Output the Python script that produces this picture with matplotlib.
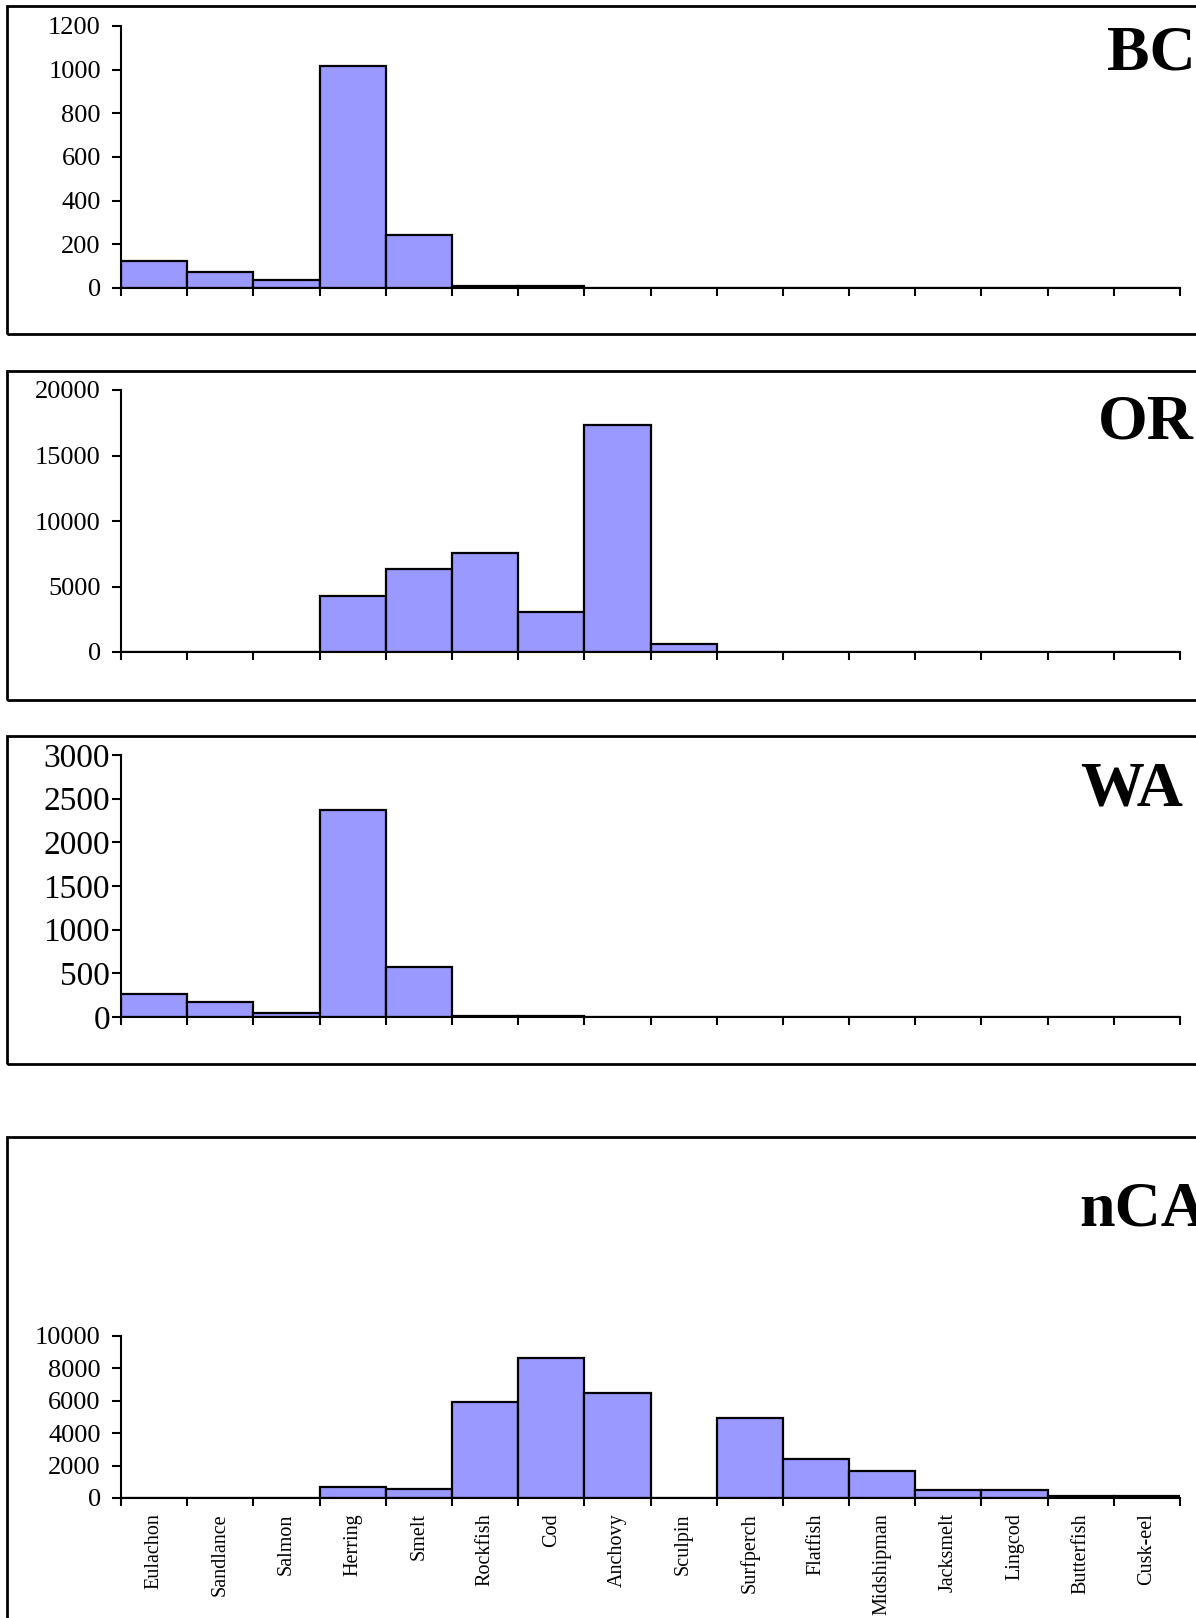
import matplotlib
matplotlib.use("Agg")
import matplotlib.pyplot as plt
from matplotlib.patches import Rectangle
import numpy as np

categories = ["Eulachon", "Sandlance", "Salmon", "Herring", "Smelt", "Rockfish", "Cod",
              "Anchovy", "Sculpin", "Surfperch", "Flatfish", "Midshipman", "Jacksmelt",
              "Lingcod", "Butterfish", "Cusk-eel"]

bc_values = [122, 72, 37, 1015, 243, 10, 10, 0, 0, 0, 0, 0, 0, 0, 0, 0]
or_values = [0, 0, 0, 4300, 6340, 7590, 3060, 17330, 600, 0, 0, 0, 0, 0, 0, 0]
wa_values = [260, 177, 47, 2374, 567, 10, 8, 0, 0, 0, 0, 0, 0, 0, 0, 0]
nca_values = [0, 0, 0, 700, 560, 5950, 8660, 6500, 0, 4920, 2380, 1680, 480, 480, 150, 150]

panel_names = ["BC", "OR", "WA", "nCA"]
y_maxes = [1200, 20000, 3000, 10000]
y_steps = [200, 5000, 500, 2000]

W, H = 1196, 1618
FONT = "Liberation Serif"
BAR_COLOR = "#9999FF"

fig = plt.figure(figsize=(W / 100, H / 100), dpi=100)
fig.patch.set_facecolor("white")

# layout in pixels: (zero y, max y, frame top, frame bottom, title x, title baseline, tick fontsize, tick pad)
layout = [
    (288, 25.8, 6.2, 334.4, 1107, 70, 19, 8.0),
    (652, 390, 370.5, 699.7, 1098, 438, 19, 8.0),
    (1017, 755, 735.8, 1064, 1080, 805, 24, 1.5),
    (1498, 1336, 1137, 1700, 1079, 1226, 19, 8.0),
]
x_left, x_right = 121, 1180
all_values = [bc_values, or_values, wa_values, nca_values]

for k, (vals, name, ymax, ystep, lay) in enumerate(zip(all_values, panel_names, y_maxes, y_steps, layout)):
    y0, y1, ft, fb, tx, ty, fs, pad = lay
    ax = fig.add_axes([x_left / W, 1 - y0 / H, (x_right - x_left) / W, (y0 - y1) / H])
    ax.bar(np.arange(len(categories)), vals, width=1.0, align="edge",
           color=BAR_COLOR, edgecolor="black", linewidth=1.6, zorder=2)
    ax.set_xlim(0, len(categories))
    ax.set_ylim(0, ymax)
    ax.set_yticks(np.arange(0, ymax + 1, ystep))
    ax.set_xticks(np.arange(0, len(categories) + 1))
    ax.set_xticklabels([])
    for s in ["top", "right"]:
        ax.spines[s].set_visible(False)
    for s in ["left", "bottom"]:
        ax.spines[s].set_linewidth(1.5)
        ax.spines[s].set_zorder(3)
    ax.tick_params(axis="y", direction="out", length=6.5, width=1.5, pad=pad, labelsize=fs)
    ax.tick_params(axis="x", which="major", direction="out", length=5.5, width=1.5)
    for lab in ax.get_yticklabels():
        lab.set_fontfamily(FONT)
    ax.patch.set_alpha(0)
    if k == 3:
        ax.set_xticks(np.arange(len(categories)) + 0.5, minor=True)
        ax.set_xticklabels(categories, minor=True, rotation=90, va="top", ha="center",
                           fontsize=14.5, fontfamily=FONT)
        ax.tick_params(axis="x", which="minor", length=0, pad=11)

    # frame around panel
    fig.add_artist(Rectangle((7.2 / W, 1 - fb / H), 1.2, (fb - ft) / H,
                             transform=fig.transFigure, fill=False,
                             edgecolor="black", linewidth=2.0, clip_on=False))
    fig.text(tx / W, 1 - ty / H, name, fontsize=46, fontweight="bold",
             fontfamily=FONT, ha="left", va="baseline")

fig.savefig("out.png", dpi=100, facecolor="white")
